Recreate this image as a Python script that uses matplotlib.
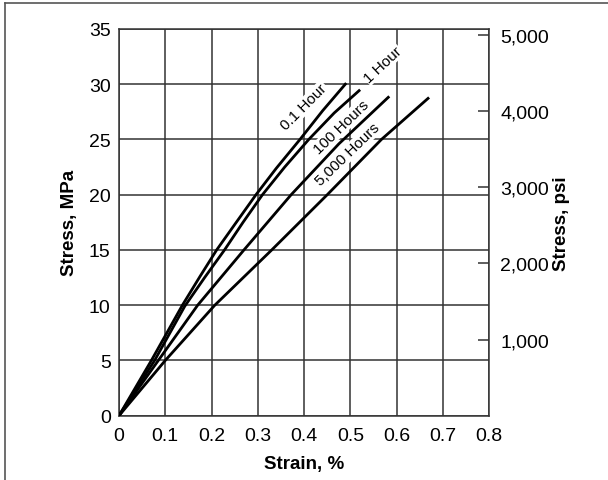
import matplotlib
matplotlib.use("Agg")
import matplotlib.pyplot as plt
from matplotlib.lines import Line2D
from matplotlib.ticker import FixedLocator, FuncFormatter

plt.rcParams['font.family'] = ['Liberation Sans', 'DejaVu Sans']

# creep curves (strain %, stress MPa)
strain_01h = [0, 0.035, 0.07, 0.137, 0.175, 0.211, 0.25, 0.296, 0.34, 0.391, 0.44, 0.491]
stress_01h = [0, 2.5, 5, 10, 12.6, 15, 17.3, 20, 22.4, 25, 27.6, 30.1]

strain_1h = [0, 0.04, 0.077, 0.142, 0.185, 0.228, 0.268, 0.31, 0.358, 0.41, 0.465, 0.521]
stress_1h = [0, 2.6, 5, 9.9, 12.5, 15, 17.5, 20, 22.5, 25, 27.4, 29.5]

strain_100h = [0, 0.085, 0.17, 0.27, 0.372, 0.475, 0.584]
stress_100h = [0, 5, 10, 15, 20, 24.6, 28.9]

strain_5000h = [0, 0.1, 0.207, 0.33, 0.45, 0.567, 0.67]
stress_5000h = [0, 5, 10, 15, 20, 25, 28.8]

curve_labels = ["0.1 Hour", "1 Hour", "100 Hours", "5,000 Hours"]
label_x = [0.400, 0.570, 0.481, 0.494]
label_y = [28.0, 31.8, 26.2, 23.7]
label_rot = [45, 43, 44, 44]

x_ticks = [0, 0.1, 0.2, 0.3, 0.4, 0.5, 0.6, 0.7, 0.8]
y_ticks = [0, 5, 10, 15, 20, 25, 30, 35]
psi_ticks = [1000, 2000, 3000, 4000, 5000]
MPA_TO_PSI = 145.038

grid_col = '#333333'

fig = plt.figure(figsize=(6.08, 4.81), dpi=100)
ax = fig.add_axes([0.1957, 0.1337, 0.609, 0.804])

ax.set_xlim(0, 0.8)
ax.set_ylim(0, 35)
ax.set_xticks(x_ticks)
ax.set_xticklabels(['0', '0.1', '0.2', '0.3', '0.4', '0.5', '0.6', '0.7', '0.8'])
ax.set_yticks(y_ticks)
ax.grid(True, color=grid_col, linewidth=1.1, zorder=1)
ax.set_axisbelow(True)
ax.tick_params(axis='both', length=0, labelsize=14)
ax.tick_params(axis='x', pad=8)
ax.tick_params(axis='y', pad=6)
for s in ax.spines.values():
    s.set_color(grid_col)
    s.set_linewidth(1.1)

# curves
for xs, ys in [(strain_01h, stress_01h), (strain_1h, stress_1h),
               (strain_100h, stress_100h), (strain_5000h, stress_5000h)]:
    ax.plot(xs, ys, color='black', linewidth=2.0, zorder=4, solid_capstyle='butt')

# curve labels with white boxes that break the grid
for txt, lx, ly, rot in zip(curve_labels, label_x, label_y, label_rot):
    ax.text(lx, ly, txt, rotation=rot, rotation_mode='anchor', ha='center', va='center',
            fontsize=11, zorder=3,
            bbox=dict(facecolor='white', edgecolor='none', pad=0.5))

ax.set_xlabel('Strain, %', fontsize=13.5, fontweight='bold', labelpad=8)
ax.set_ylabel('Stress, MPa', fontsize=13.5, fontweight='bold', labelpad=8)

# right psi axis
ax2 = ax.twinx()
ax2.set_ylim(0, 35 * MPA_TO_PSI)
ax2.yaxis.set_major_locator(FixedLocator(psi_ticks))
ax2.yaxis.set_major_formatter(FuncFormatter(lambda v, p: f'{int(v):,}'))
ax2.tick_params(axis='y', direction='in', length=8, width=1.1, color=grid_col,
                labelsize=14, pad=8)
ax2.set_ylabel('Stress, psi', fontsize=13.5, fontweight='bold', labelpad=3)
for s in ax2.spines.values():
    s.set_visible(False)

# outer frame (top and left edges only)
fig.add_artist(Line2D([5 / 608, 1], [1 - 4 / 481, 1 - 4 / 481], transform=fig.transFigure,
                      color='#555555', linewidth=1.2))
fig.add_artist(Line2D([5 / 608, 5 / 608], [0, 1 - 4 / 481], transform=fig.transFigure,
                      color='#555555', linewidth=1.2))

fig.savefig('out.png', dpi=100)
